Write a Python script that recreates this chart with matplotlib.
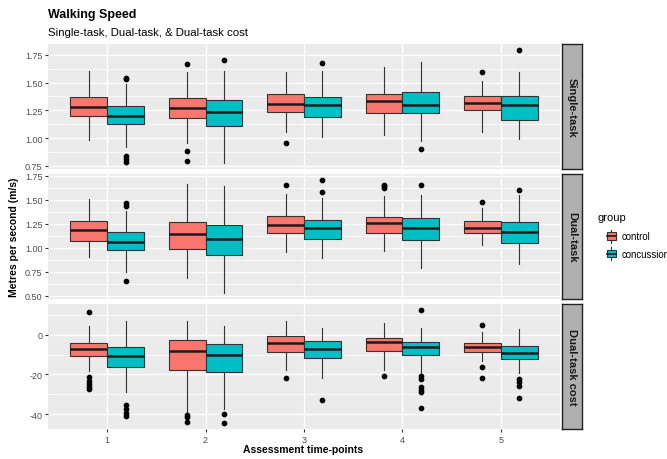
import matplotlib
matplotlib.use("Agg")
import matplotlib.pyplot as plt
from matplotlib.legend_handler import HandlerBase
from matplotlib.patches import Rectangle
from matplotlib.lines import Line2D
from matplotlib.ticker import MultipleLocator
import numpy as np

# ── data ──────────────────────────────────────────────────────────────────
timepoints = ["1", "2", "3", "4", "5"]
groups = ["control", "concussion"]
facets = ["Single-task", "Dual-task", "Dual-task cost"]

# Single-task
st_ctrl_q1 = [1.197, 1.179, 1.233, 1.227, 1.251]
st_ctrl_med = [1.279, 1.273, 1.303, 1.333, 1.312]
st_ctrl_q3 = [1.372, 1.363, 1.400, 1.394, 1.378]
st_ctrl_lo = [0.980, 0.955, 1.052, 1.031, 1.052]
st_ctrl_hi = [1.605, 1.590, 1.590, 1.635, 1.514]
st_ctrl_out = [[], [1.665, 0.889, 0.795], [0.955], [], [1.596]]
st_conc_q1 = [1.128, 1.106, 1.191, 1.227, 1.167]
st_conc_med = [1.203, 1.233, 1.297, 1.294, 1.300]
st_conc_q3 = [1.288, 1.342, 1.372, 1.418, 1.378]
st_conc_lo = [0.919, 0.774, 1.007, 0.977, 0.995]
st_conc_hi = [1.490, 1.605, 1.599, 1.680, 1.590]
st_conc_out = [[1.545, 1.530, 0.840, 0.815, 0.789], [1.705], [1.671], [0.901], [1.795]]

# Dual-task
dt_ctrl_q1 = [1.064, 0.984, 1.148, 1.151, 1.151]
dt_ctrl_med = [1.186, 1.144, 1.235, 1.256, 1.200]
dt_ctrl_q3 = [1.276, 1.263, 1.329, 1.322, 1.280]
dt_ctrl_lo = [0.907, 0.688, 0.956, 0.967, 1.026]
dt_ctrl_hi = [1.506, 1.666, 1.558, 1.541, 1.409]
dt_ctrl_out = [[], [], [1.656], [1.656, 1.639, 1.622], [1.471]]
dt_conc_q1 = [0.974, 0.921, 1.088, 1.081, 1.047]
dt_conc_med = [1.061, 1.088, 1.200, 1.200, 1.165]
dt_conc_q3 = [1.162, 1.235, 1.287, 1.308, 1.263]
dt_conc_lo = [0.747, 0.524, 0.897, 0.786, 0.834]
dt_conc_hi = [1.380, 1.639, 1.513, 1.548, 1.548]
dt_conc_out = [[1.465, 1.435, 0.653], [], [1.708, 1.583], [1.656], [1.600]]

# Dual-task cost
dc_ctrl_q1 = [-10.8, -17.7, -8.8, -8.4, -8.8]
dc_ctrl_med = [-7.4, -8.3, -4.05, -3.7, -6.2]
dc_ctrl_q3 = [-3.9, -2.5, -0.8, -1.7, -3.9]
dc_ctrl_lo = [-18.1, -39.2, -17.7, -17.7, -13.0]
dc_ctrl_hi = [4.7, 6.9, 6.75, 6.1, 1.35]
dc_ctrl_out = [[11.5, -21.4, -23.1, -24.8, -26.2, -27.3],
               [-40.5, -41.7, -43.9], [-21.8], [-20.9], [5.1, -16.4, -21.9]]
dc_conc_q1 = [-16.2, -18.6, -11.8, -10.1, -12.2]
dc_conc_med = [-10.8, -10.0, -7.1, -5.9, -9.1]
dc_conc_q3 = [-6.4, -4.7, -3.2, -3.7, -5.6]
dc_conc_lo = [-28.7, -37.5, -21.9, -19.7, -19.2]
dc_conc_hi = [6.75, 4.4, 3.4, 3.4, 3.0]
dc_conc_out = [[-35.4, -37.5, -39.7, -41.2], [-40.0, -44.7], [-32.7],
               [12.7, -20.6, -22.3, -26.2, -27.7, -28.7, -37.0],
               [-22.3, -23.6, -25.7, -31.9]]

FACET_DATA = [
    [(st_ctrl_q1, st_ctrl_med, st_ctrl_q3, st_ctrl_lo, st_ctrl_hi, st_ctrl_out),
     (st_conc_q1, st_conc_med, st_conc_q3, st_conc_lo, st_conc_hi, st_conc_out)],
    [(dt_ctrl_q1, dt_ctrl_med, dt_ctrl_q3, dt_ctrl_lo, dt_ctrl_hi, dt_ctrl_out),
     (dt_conc_q1, dt_conc_med, dt_conc_q3, dt_conc_lo, dt_conc_hi, dt_conc_out)],
    [(dc_ctrl_q1, dc_ctrl_med, dc_ctrl_q3, dc_ctrl_lo, dc_ctrl_hi, dc_ctrl_out),
     (dc_conc_q1, dc_conc_med, dc_conc_q3, dc_conc_lo, dc_conc_hi, dc_conc_out)],
]

# ── style ────────────────────────────────────────────────────────────────
COLORS = ["#F8766D", "#00BFC4"]
EDGE = "#333333"
PANEL_BG = "#EBEBEB"
TICK_GREY = "#4D4D4D"
YTICK_STEP = [0.25, 0.25, 20]

plt.rcParams["font.family"] = ["Liberation Sans", "DejaVu Sans"]

fig = plt.figure(figsize=(6.67, 4.6), dpi=100)

W, H = 667.0, 460.0
px_left, px_right = 48, 560
panel_tops = [45, 175, 305]
panel_h = 125


def make_stats(q1, med, q3, lo, hi, out):
    return [dict(q1=a, med=b, q3=c, whislo=d, whishi=e, fliers=f)
            for a, b, c, d, e, f in zip(q1, med, q3, lo, hi, out)]


axes = []
for i, (facet, data) in enumerate(zip(facets, FACET_DATA)):
    top = panel_tops[i]
    ax = fig.add_axes([px_left / W, 1 - (top + panel_h) / H,
                       (px_right - px_left) / W, panel_h / H])
    ax.set_facecolor(PANEL_BG)
    for s in ax.spines.values():
        s.set_visible(False)

    xs = np.arange(1, len(timepoints) + 1)
    all_vals = []
    for g, (gd, col) in enumerate(zip(data, COLORS)):
        stats = make_stats(*gd)
        pos = xs + (-0.1875 if g == 0 else 0.1875)
        ax.bxp(stats, positions=pos, widths=0.375, patch_artist=True,
               showcaps=False, manage_ticks=False,
               boxprops=dict(facecolor=col, edgecolor=EDGE, linewidth=0.8),
               whiskerprops=dict(color=EDGE, linewidth=0.8),
               medianprops=dict(color="#1a1a1a", linewidth=1.8),
               flierprops=dict(marker="o", markerfacecolor="black",
                               markeredgecolor="black", markersize=3.1,
                               linestyle="none"),
               zorder=3)
        for st in stats:
            all_vals += [st["whislo"], st["whishi"]] + list(st["fliers"])

    vmin, vmax = min(all_vals), max(all_vals)
    pad = (vmax - vmin) * 0.05
    ax.set_ylim(vmin - pad, vmax + pad)
    ax.set_xlim(0.4, 5.6)

    step = YTICK_STEP[i]
    ax.yaxis.set_major_locator(MultipleLocator(step))
    ax.yaxis.set_minor_locator(MultipleLocator(step / 2))
    ax.set_xticks(xs)
    ax.grid(True, which="major", color="white", linewidth=1.0, zorder=0)
    ax.grid(True, which="minor", axis="y", color="white", linewidth=0.5, zorder=0)
    ax.set_axisbelow(True)
    ax.tick_params(axis="both", which="major", length=2.5, color="#333333",
                   labelsize=6.5, labelcolor=TICK_GREY, pad=1.5)
    ax.tick_params(axis="both", which="minor", length=0)
    if step < 1:
        ax.yaxis.set_major_formatter(plt.FuncFormatter(lambda v, p: f"{v:.2f}"))
    else:
        ax.yaxis.set_major_formatter(plt.FuncFormatter(lambda v, p: f"{v:.0f}"))
    if i < 2:
        ax.tick_params(axis="x", which="both", length=0, labelbottom=False)
    else:
        ax.set_xticklabels(timepoints)

    # strip on the right
    sax = fig.add_axes([(px_right + 2) / W, 1 - (top + panel_h) / H,
                        20 / W, panel_h / H])
    sax.set_xticks([])
    sax.set_yticks([])
    sax.set_facecolor("#B0B0B0")
    for s in sax.spines.values():
        s.set_color("#222222")
        s.set_linewidth(1.0)
    sax.text(0.5, 0.5, facet, rotation=-90, ha="center", va="center",
             fontsize=8, fontweight="bold", color="#1a1a1a",
             transform=sax.transAxes)
    axes.append(ax)

# ── titles ───────────────────────────────────────────────────────────────
fig.text(px_left / W, 1 - 15 / H, "Walking Speed", fontsize=9,
         fontweight="bold", va="center", ha="left")
fig.text(px_left / W, 1 - 33 / H, "Single-task, Dual-task, & Dual-task cost",
         fontsize=8.2, va="center", ha="left")
fig.text(14 / W, 1 - 237 / H, "Metres per second (m/s)", rotation=90,
         fontsize=7.5, fontweight="bold", va="center", ha="center")
fig.text(303 / W, 1 - 450 / H, "Assessment time-points", fontsize=7.5,
         fontweight="bold", va="center", ha="center")


# ── legend with mini boxplot keys ────────────────────────────────────────
class BoxKey(HandlerBase):
    def create_artists(self, legend, orig_handle, xd, yd, width, height,
                       fontsize, trans):
        col = orig_handle.get_facecolor()
        x0, y0 = -xd, -yd
        bx = x0 + width * 0.2
        bw = width * 0.6
        r = Rectangle((bx, y0 + height * 0.22), bw, height * 0.56,
                      facecolor=col, edgecolor=EDGE, lw=0.8, transform=trans)
        m = Line2D([bx, bx + bw], [y0 + height * 0.5] * 2, color="#1a1a1a",
                   lw=1.2, transform=trans)
        cx = x0 + width * 0.5
        w1 = Line2D([cx, cx], [y0, y0 + height * 0.22], color=EDGE, lw=0.8,
                    transform=trans)
        w2 = Line2D([cx, cx], [y0 + height * 0.78, y0 + height], color=EDGE,
                    lw=0.8, transform=trans)
        return [w1, w2, r, m]


fig.text(597 / W, 1 - 218 / H, "group", fontsize=8, va="center", ha="left")
handles = [Rectangle((0, 0), 1, 1, facecolor=c) for c in COLORS]
leg = fig.legend(handles, groups, loc="upper left",
                 bbox_to_anchor=(604 / W, 1 - 230.5 / H), frameon=False,
                 fontsize=6.9, handler_map={Rectangle: BoxKey()},
                 handlelength=1.55, handleheight=1.75, labelspacing=0.45,
                 handletextpad=0.3, borderaxespad=0, borderpad=0)

fig.savefig("out.png", dpi=100, facecolor="white")
